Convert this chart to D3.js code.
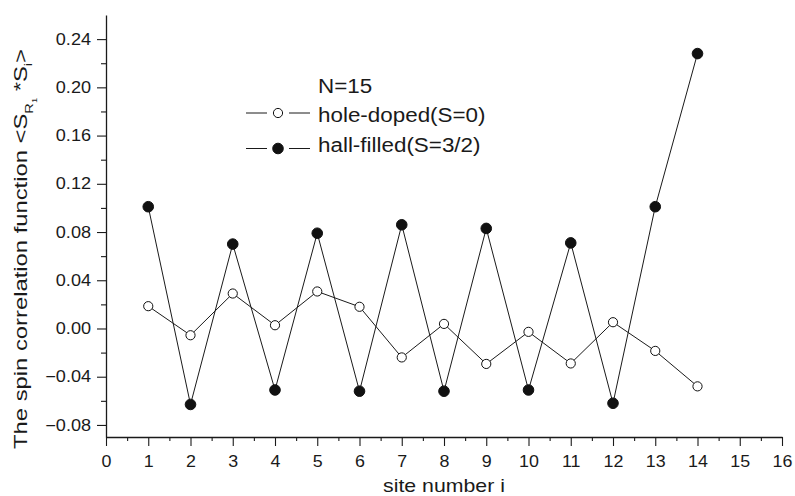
<!DOCTYPE html>
<html>
<head>
<meta charset="utf-8">
<script src="https://cdn.jsdelivr.net/npm/d3@7"></script>
<style>
  body { margin: 0; background: #fff; }
  text { font-family: "Liberation Sans", Arial, Helvetica, sans-serif; fill: #1a1a1a; }
</style>
</head>
<body>
<svg id="chart" width="795" height="496"></svg>
<script>
"use strict";

// site index i
var sites = [1, 2, 3, 4, 5, 6, 7, 8, 9, 10, 11, 12, 13, 14];
// <S_R1 * S_i>
var holeDoped = [0.0185, -0.0056, 0.029, 0.0027, 0.0307, 0.018, -0.024, 0.0038, -0.0294, -0.0028, -0.029, 0.0052, -0.0186, -0.048];
var hallFilled = [0.101, -0.063, 0.070, -0.051, 0.079, -0.052, 0.086, -0.052, 0.083, -0.051, 0.071, -0.062, 0.101, 0.228];

var xTicks = [0, 1, 2, 3, 4, 5, 6, 7, 8, 9, 10, 11, 12, 13, 14, 15, 16];
var xMinorTicks = [0.5, 1.5, 2.5, 3.5, 4.5, 5.5, 6.5, 7.5, 8.5, 9.5, 10.5, 11.5, 12.5, 13.5, 14.5, 15.5];
var yTicks = [-0.08, -0.04, 0.00, 0.04, 0.08, 0.12, 0.16, 0.20, 0.24];
var yMinorTicks = [-0.06, -0.02, 0.02, 0.06, 0.10, 0.14, 0.18, 0.22];

var legendTitle = "N=15";
var seriesNames = ["hole-doped(S=0)", "hall-filled(S=3/2)"];

var svg = d3.select("#chart");
svg.append("rect").attr("width", 795).attr("height", 496).attr("fill", "#fff");

var x = d3.scaleLinear().domain([0, 16]).range([106, 782]);
var y = d3.scaleLinear().domain([-0.09, 0.26]).range([437, 15]);

// stretch text a bit wider, the figure is typeset wide
function stretch(sel, k) {
  sel.each(function() {
    var w = this.getComputedTextLength();
    d3.select(this).attr("textLength", w * k).attr("lengthAdjust", "spacingAndGlyphs");
  });
}

function styleAxis(g) {
  g.selectAll("path").attr("stroke", "#1a1a1a").attr("stroke-width", 1.3);
  g.selectAll("line").attr("stroke", "#1a1a1a").attr("stroke-width", 1.1);
}

// x axis
var xAxis = svg.append("g")
  .attr("transform", "translate(0," + y.range()[0] + ")")
  .call(d3.axisBottom(x).tickValues(xTicks).tickSize(9).tickSizeOuter(0).tickPadding(9).tickFormat(d3.format("d")))
  .call(styleAxis);
xAxis.selectAll("text").attr("font-size", 17).style("font-family", "'Liberation Sans', Arial, sans-serif");
stretch(xAxis.selectAll("text"), 1.05);

svg.append("g")
  .attr("transform", "translate(0," + y.range()[0] + ")")
  .call(d3.axisBottom(x).tickValues(xMinorTicks).tickSize(4).tickFormat(""))
  .call(function(g) { g.select(".domain").remove(); })
  .call(styleAxis);

// y axis
var yAxis = svg.append("g")
  .attr("transform", "translate(" + x.range()[0] + ",0)")
  .call(d3.axisLeft(y).tickValues(yTicks).tickSize(9).tickSizeOuter(0).tickPadding(6).tickFormat(d3.format(".2f")))
  .call(styleAxis);
yAxis.selectAll("text").attr("font-size", 16).style("font-family", "'Liberation Sans', Arial, sans-serif");
stretch(yAxis.selectAll("text"), 1.13);

svg.append("g")
  .attr("transform", "translate(" + x.range()[0] + ",0)")
  .call(d3.axisLeft(y).tickValues(yMinorTicks).tickSize(5).tickFormat(""))
  .call(function(g) { g.select(".domain").remove(); })
  .call(styleAxis);

// axis titles
svg.append("text")
  .attr("x", (x.range()[0] + x.range()[1]) / 2)
  .attr("y", 492)
  .attr("text-anchor", "middle")
  .attr("font-size", 19)
  .text("site number i")
  .call(stretch, 1.12);

var yTitle = svg.append("text")
  .attr("text-anchor", "middle")
  .attr("font-size", 18);
yTitle.append("tspan").text("The spin correlation function <S");
yTitle.append("tspan").attr("font-size", 11).attr("dy", 6).text("R");
yTitle.append("tspan").attr("font-size", 7).attr("dy", 4).text("1");
yTitle.append("tspan").attr("dy", -10).text(" *S");
yTitle.append("tspan").attr("font-size", 11).attr("dy", 5).text("i");
yTitle.append("tspan").attr("dy", -5).text(">");
var yTitleLen = yTitle.node().getBBox().width;
yTitle.attr("transform", "translate(27,249) rotate(-90) scale(" + (400 / yTitleLen) + ",1)");

// series
var series = [
  { name: seriesNames[0], values: holeDoped, filled: false },
  { name: seriesNames[1], values: hallFilled, filled: true }
];

var line = d3.line()
  .x(function(d) { return x(d.site); })
  .y(function(d) { return y(d.value); });

series.forEach(function(s) {
  var pts = sites.map(function(site, i) { return { site: site, value: s.values[i] }; });
  svg.append("path")
    .datum(pts)
    .attr("d", line)
    .attr("fill", "none")
    .attr("stroke", "#1a1a1a")
    .attr("stroke-width", 1);
});

series.forEach(function(s) {
  var pts = sites.map(function(site, i) { return { site: site, value: s.values[i] }; });
  svg.append("g").selectAll("circle")
    .data(pts)
    .enter()
    .append("circle")
    .attr("cx", function(d) { return x(d.site); })
    .attr("cy", function(d) { return y(d.value); })
    .attr("r", s.filled ? 5.3 : 4.6)
    .attr("fill", s.filled ? "#111" : "#fff")
    .attr("stroke", "#111")
    .attr("stroke-width", 1);
});

// legend
var legend = svg.append("g").attr("class", "legend");

legend.append("text")
  .attr("x", 318)
  .attr("y", 93)
  .attr("font-size", 20)
  .text(legendTitle)
  .call(stretch, 1.12);

var rows = legend.selectAll("g.row")
  .data(series)
  .enter()
  .append("g")
  .attr("class", "row")
  .attr("transform", function(d, i) { return "translate(0," + (113 + i * 35.5) + ")"; });

rows.append("line")
  .attr("x1", 246).attr("x2", 267).attr("y1", 0).attr("y2", 0)
  .attr("stroke", "#1a1a1a").attr("stroke-width", 1);
rows.append("line")
  .attr("x1", 289).attr("x2", 310).attr("y1", 0).attr("y2", 0)
  .attr("stroke", "#1a1a1a").attr("stroke-width", 1);
rows.append("circle")
  .attr("cx", 278)
  .attr("cy", 0)
  .attr("r", function(d) { return d.filled ? 5.3 : 4.6; })
  .attr("fill", function(d) { return d.filled ? "#111" : "#fff"; })
  .attr("stroke", "#111")
  .attr("stroke-width", 1);
rows.append("text")
  .attr("x", 318)
  .attr("y", function(d, i) { return i === 0 ? 8.5 : 3.5; })
  .attr("font-size", 20)
  .text(function(d) { return d.name; })
  .call(stretch, 1.12);
</script>
</body>
</html>
